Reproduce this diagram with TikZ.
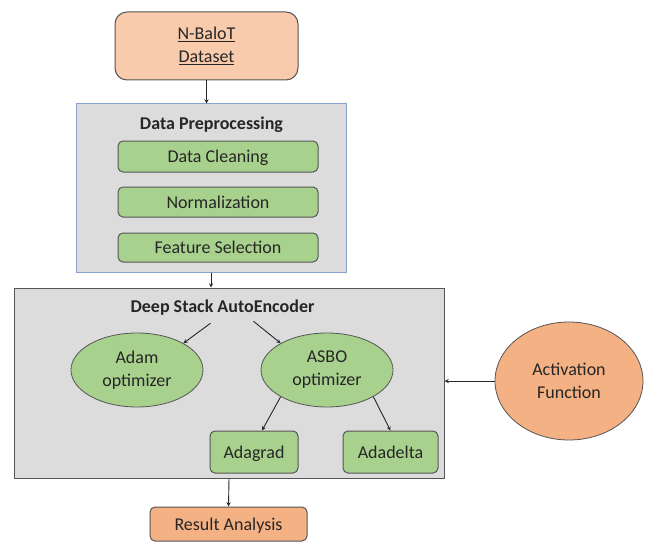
\documentclass[tikz,border=0pt]{standalone}
\usepackage{fontspec}
\setmainfont{Carlito}
\usepackage{xcolor}
\usepackage{tikz}
\usetikzlibrary{shapes.geometric, arrows, positioning}
\definecolor{peach}{RGB}{248, 203, 173}
\definecolor{orangebox}{RGB}{244, 177, 131}
\definecolor{greenbox}{RGB}{169, 209, 142}
\definecolor{panel}{RGB}{220, 220, 220}
\definecolor{panelblue}{RGB}{132, 162, 204}
\definecolor{edge}{RGB}{85, 85, 85}
\definecolor{ink}{RGB}{38, 38, 38}
\tikzstyle{source} = [rectangle, rounded corners=12pt, draw=edge, line width=1pt, fill=peach, inner sep=0pt, align=center]
\tikzstyle{stagebox} = [rectangle, rounded corners=5pt, draw=edge, line width=1pt, fill=greenbox, inner sep=0pt, text height=15pt, text depth=3pt, text centered]
\tikzstyle{oval} = [ellipse, draw=edge, line width=0.8pt, fill=greenbox, inner sep=0pt, align=center]
\tikzstyle{panelbox} = [rectangle, fill=panel, line width=1pt, inner sep=0pt]
\tikzstyle{arrow} = [->, >=stealth, line width=0.9pt, draw=ink]

\begin{document}
\begin{tikzpicture}[x=1pt, y=-1pt, font=\fontsize{18}{23}\selectfont, text=ink]
\useasboundingbox (0,0) rectangle (646,543);

% Input dataset
\node[source, minimum width=183pt, minimum height=68pt] (dataset) at (206.5,46) {\underline{N-BaloT}\\\underline{Dataset}};

% Preprocessing panel
\node[panelbox, draw=panelblue, minimum width=270pt, minimum height=168pt] (preproc) at (211,188) {};
\node[font=\fontsize{18}{23}\selectfont\bfseries] (preproc_title) at (211.5,125) {Data Preprocessing};
\node[stagebox, minimum width=200pt, minimum height=31pt] (clean) at (218,156.5) {Data Cleaning};
\node[stagebox, minimum width=200pt, minimum height=30pt, below=14pt of clean] (norm) {Normalization};
\node[stagebox, minimum width=200pt, minimum height=29pt, below=15pt of norm] (feat) {Feature Selection};

% Autoencoder panel
\node[panelbox, draw=edge, minimum width=430pt, minimum height=190pt] (dsae) at (229,383) {};
\node[font=\fontsize{18}{23}\selectfont\bfseries] (dsae_title) at (222.5,308) {Deep Stack AutoEncoder};
\node[oval, minimum width=132pt, minimum height=74pt] (adam) at (137,370) {Adam\\optimizer};
\node[oval, minimum width=132pt, minimum height=74pt] (asbo) at (327,370) {ASBO\\optimizer};
\node[stagebox, minimum width=88pt, minimum height=42pt] (adagrad) at (254,452) {Adagrad};
\node[stagebox, minimum width=95pt, minimum height=42pt] (adadelta) at (390.5,452) {Adadelta};

% Activation function
\node[ellipse, draw=edge, line width=0.8pt, fill=orangebox, inner sep=0pt, align=center, minimum width=148pt, minimum height=118pt] (act) at (569,381) {Activation\\Function};

% Output
\node[stagebox, fill=orangebox, minimum width=157pt, minimum height=34pt] (result) at (228.5,524) {Result Analysis};

% Arrows
\draw[arrow] (dataset.south) -- (dataset.south |- preproc.north);
\draw[arrow] (preproc.south) -- (preproc.south |- dsae.north);
\draw[arrow] ([xshift=-12pt, yshift=-4pt]dsae_title.south) -- (adam.30);
\draw[arrow] ([xshift=31pt, yshift=-2pt]dsae_title.south) -- (asbo.150);
\draw[arrow] (asbo.210) -- ([xshift=8pt]adagrad.north);
\draw[arrow] (asbo.330) -- (adadelta.north);
\draw[arrow] (act.west) -- (act.west -| dsae.east);
\draw[arrow] (dsae.south) -- (result.north);

\end{tikzpicture}
\end{document}
